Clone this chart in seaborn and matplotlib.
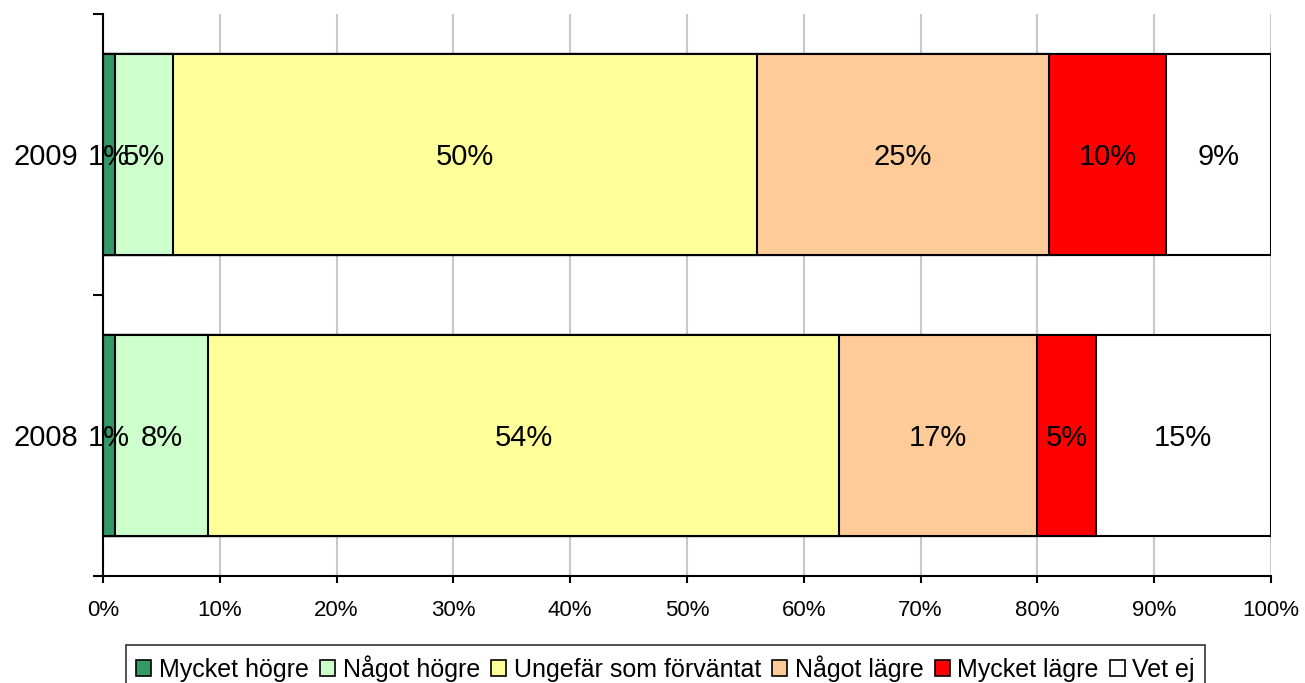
import numpy as np
import pandas as pd
import matplotlib
matplotlib.use('Agg')
import matplotlib.pyplot as plt
from matplotlib.patches import Patch
from matplotlib.ticker import FixedLocator
import seaborn as sns

# data (percent)
years = ['2009', '2008']
categories = ['Mycket högre', 'Något högre', 'Ungefär som förväntat',
              'Något lägre', 'Mycket lägre', 'Vet ej']
vals_2009 = [1, 5, 50, 25, 10, 9]
vals_2008 = [1, 8, 54, 17, 5, 15]
colors = ['#339966', '#CCFFCC', '#FFFF99', '#FFCC99', '#FF0000', '#FFFFFF']

sns.set_style('white')
plt.rcParams['font.family'] = ['Liberation Sans', 'DejaVu Sans']
plt.rcParams['text.color'] = 'black'
plt.rcParams['xtick.color'] = 'black'
plt.rcParams['ytick.color'] = 'black'

df = pd.DataFrame({'year': np.repeat(years, len(categories)),
                   'cat': categories * 2,
                   'val': vals_2009 + vals_2008})
df['cum'] = df.groupby('year', sort=False)['val'].cumsum()

fig = plt.figure(figsize=(13.05, 6.83), dpi=100)
ax = fig.add_axes([0.0789, 0.1567, 0.8950, 0.8228])
ax.set_axisbelow(True)
ax.xaxis.grid(True, color='#c8c8c8', lw=1.5)

# stacked bars: draw cumulative totals from the longest down
for cat, col in reversed(list(zip(categories, colors))):
    sub = df[df['cat'] == cat]
    sns.barplot(data=sub, x='cum', y='year', order=years, color=col,
                edgecolor='black', linewidth=1.5, width=0.714,
                saturation=1, orient='h', ax=ax)

# labels in the middle of each segment (1% and 5% overlap, as in the original)
for i, y in enumerate(years):
    sub = df[df['year'] == y]
    for _, r in sub.iterrows():
        ax.text(r['cum'] - r['val'] / 2, i, f"{r['val']}%", ha='center',
                va='center_baseline', fontsize=21, color='black')

ax.set_xlim(0, 100)
ax.set_ylim(1.5, -0.5)
ax.set_xticks(range(0, 101, 10))
ax.set_xticklabels([f'{t}%' for t in range(0, 101, 10)], fontsize=16)
ax.set_yticks(range(len(years)))
ax.set_yticklabels(years, fontsize=21, va='center_baseline')
ax.yaxis.set_minor_locator(FixedLocator([-0.5, 0.5, 1.5]))
ax.tick_params(axis='y', which='major', length=0, pad=18)
ax.tick_params(axis='y', which='minor', length=7, width=1.5, color='black', left=True)
ax.tick_params(axis='x', length=5, width=1.5, color='black', bottom=True, pad=12)
ax.set_xlabel('')
ax.set_ylabel('')
sns.despine(ax=ax, top=True, right=True)
for s in ['left', 'bottom']:
    ax.spines[s].set_color('black')
    ax.spines[s].set_linewidth(1.5)

handles = [Patch(facecolor=c, edgecolor='black', lw=1.2) for c in colors]
leg = fig.legend(handles, categories, loc='upper center', ncol=6,
                 bbox_to_anchor=(0.51, 1 - 645 / 683), fontsize=18,
                 frameon=True, fancybox=False, edgecolor='black',
                 handlelength=0.6, handleheight=0.6, handletextpad=0.3,
                 columnspacing=0.45, borderpad=0.4, borderaxespad=0)
leg.get_frame().set_linewidth(1.2)

fig.savefig('out.png', dpi=100)
